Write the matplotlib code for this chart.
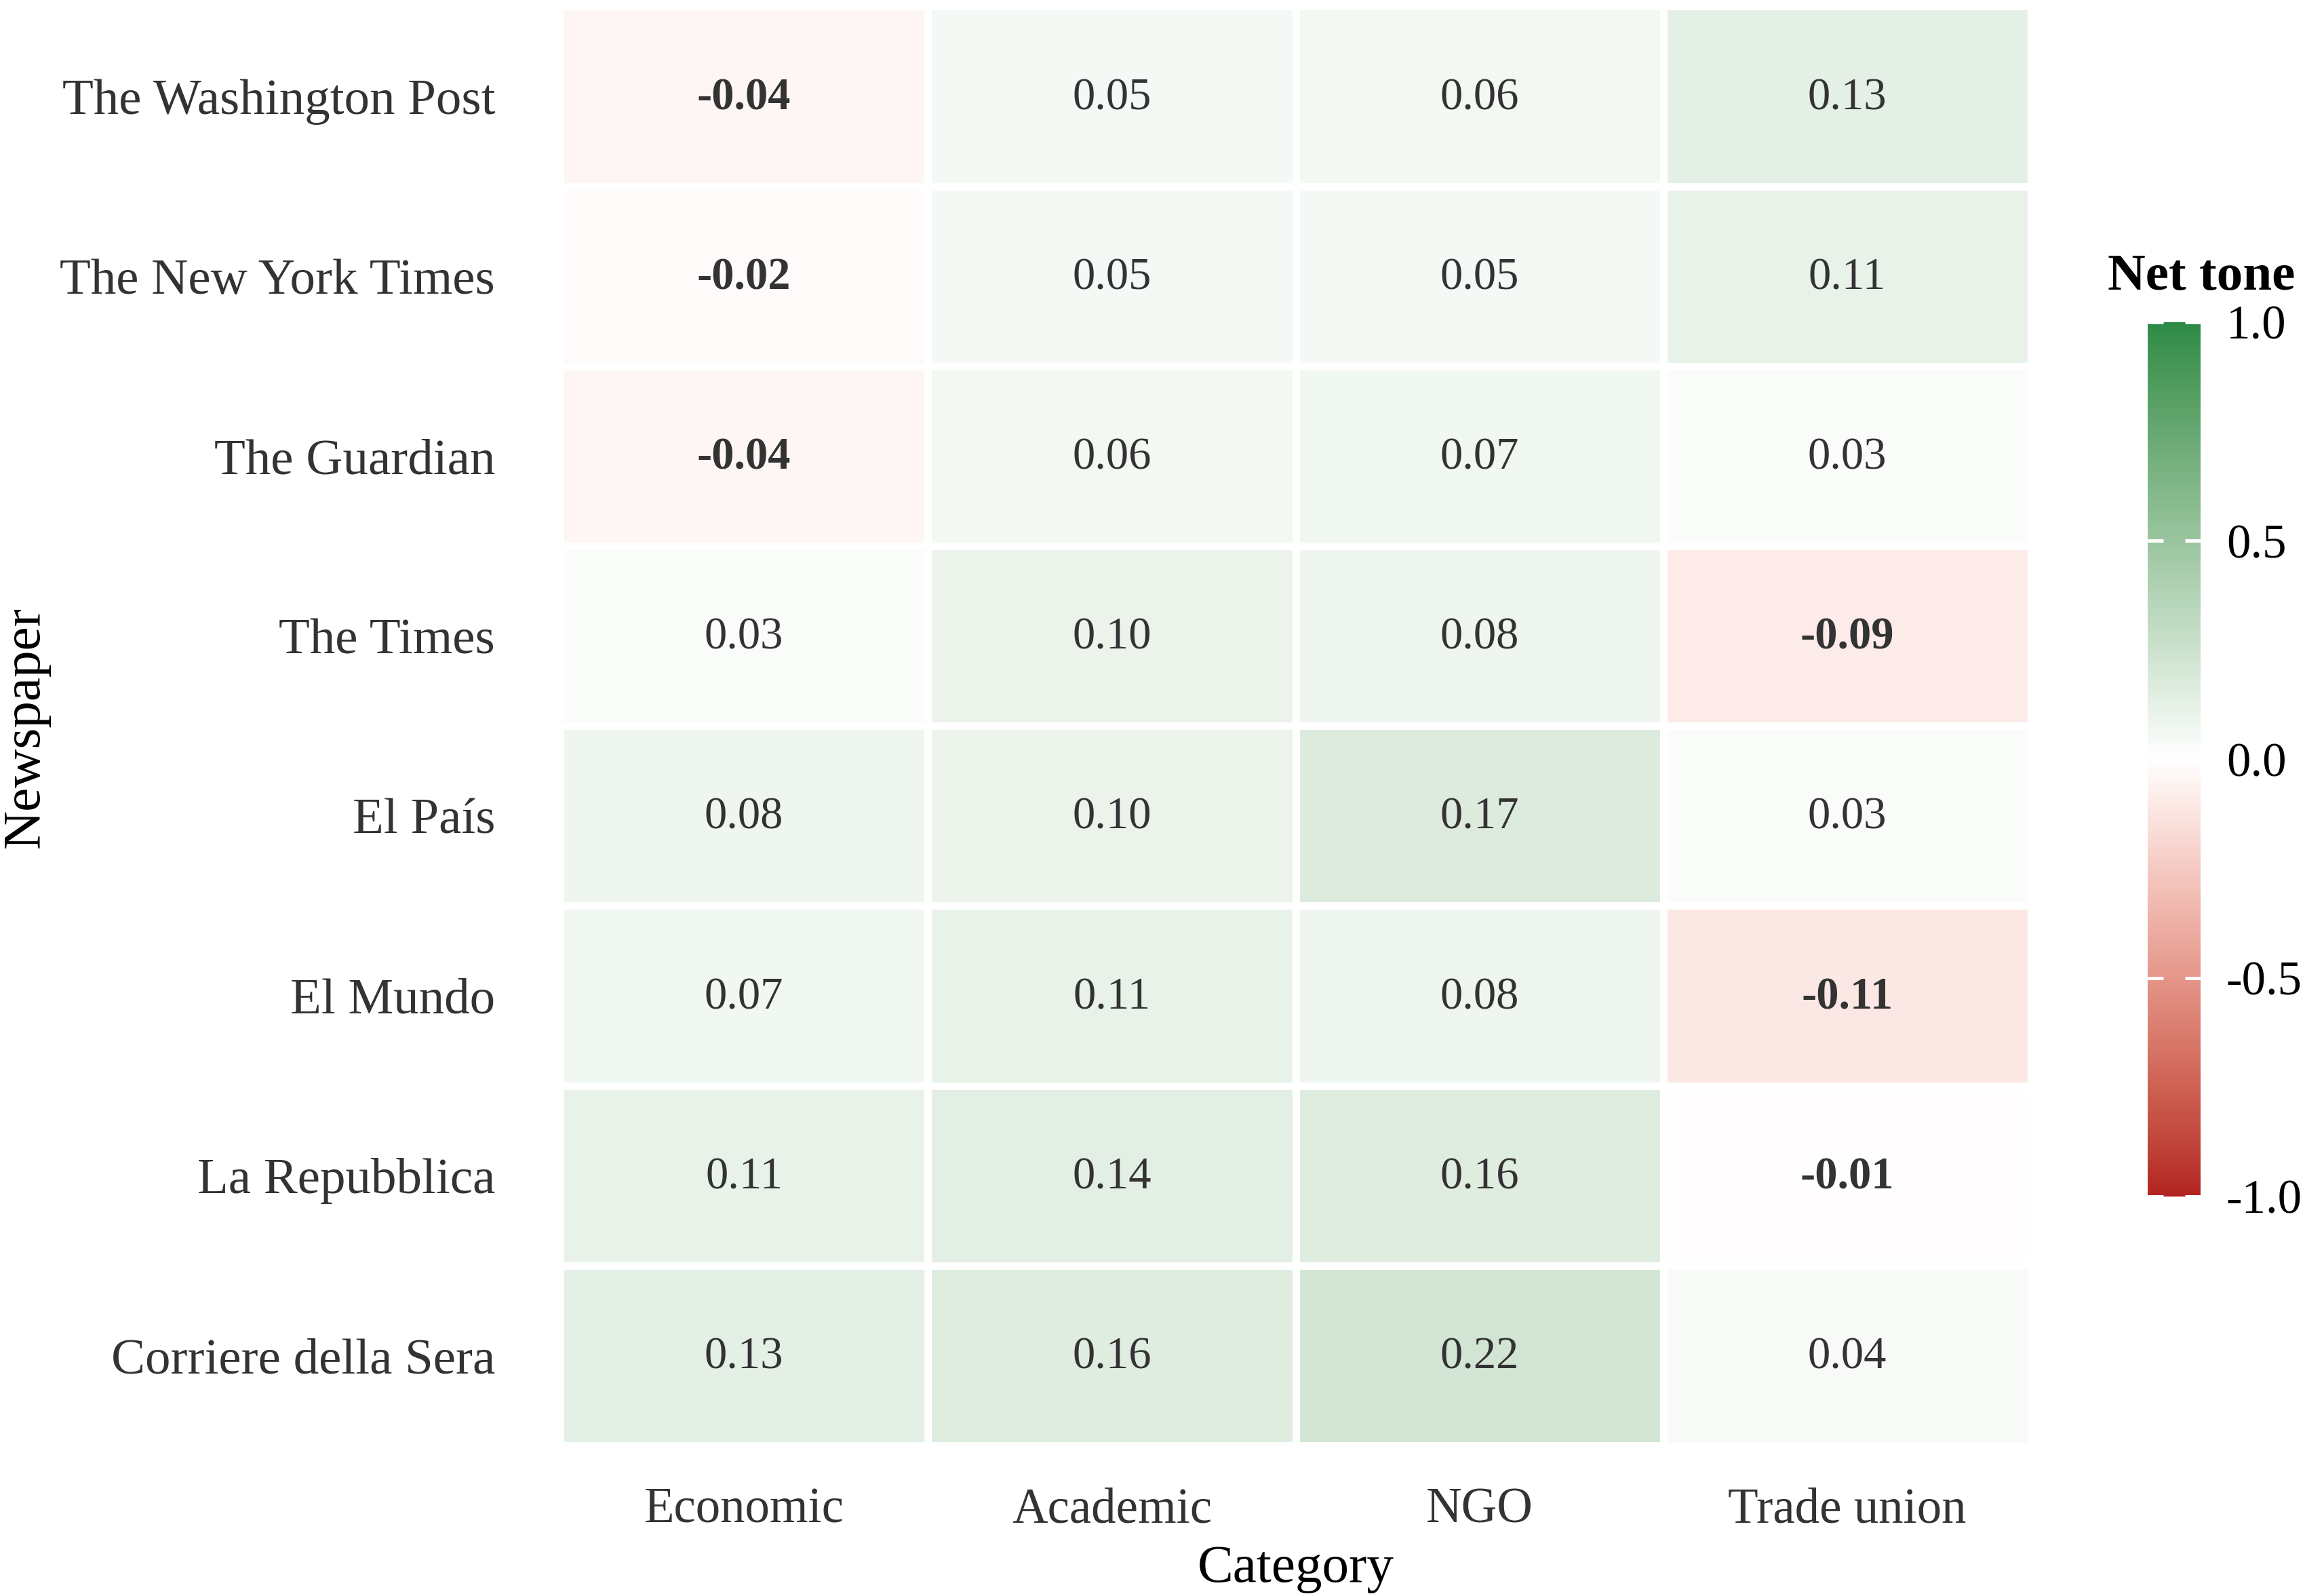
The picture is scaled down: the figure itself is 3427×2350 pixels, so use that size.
import numpy as np
import matplotlib
matplotlib.use("Agg")
import matplotlib.pyplot as plt
from matplotlib.colors import ListedColormap, Normalize, to_rgb

newspapers = ["The Washington Post", "The New York Times", "The Guardian", "The Times",
              "El País", "El Mundo", "La Repubblica", "Corriere della Sera"]
categories = ["Economic", "Academic", "NGO", "Trade union"]
economic = [-0.04, -0.02, -0.04, 0.03, 0.08, 0.07, 0.11, 0.13]
academic = [0.05, 0.05, 0.06, 0.10, 0.10, 0.11, 0.14, 0.16]
ngo = [0.06, 0.05, 0.07, 0.08, 0.17, 0.08, 0.16, 0.22]
trade_union = [0.13, 0.11, 0.03, -0.09, 0.03, -0.11, -0.01, 0.04]
cbar_ticks = [-1.0, -0.5, 0.0, 0.5, 1.0]

values = np.array([economic, academic, ngo, trade_union]).T  # rows = newspapers

# --- Lab-space diverging colormap (like ggplot scale_fill_gradient2) ---
M = np.array([[0.4124, 0.3576, 0.1805], [0.2126, 0.7152, 0.0722], [0.0193, 0.1192, 0.9505]])
WP = np.array([0.95047, 1.0, 1.08883])

def srgb_to_lab(rgb):
    rgb = np.asarray(rgb, float)
    lin = np.where(rgb <= 0.04045, rgb / 12.92, ((rgb + 0.055) / 1.055) ** 2.4)
    t = (M @ lin) / WP
    f = np.where(t > (6/29)**3, np.cbrt(t), t / (3*(6/29)**2) + 4/29)
    return np.array([116*f[1]-16, 500*(f[0]-f[1]), 200*(f[1]-f[2])])

def lab_to_srgb(lab):
    L, a, b = lab
    fy = (L + 16) / 116
    fx = fy + a / 500
    fz = fy - b / 200
    def finv(f):
        return np.where(f > 6/29, f**3, 3*(6/29)**2*(f - 4/29))
    xyz = np.array([finv(fx), finv(fy), finv(fz)]) * WP
    lin = np.clip(np.linalg.inv(M) @ xyz, 0, 1)
    rgb = np.where(lin <= 0.0031308, 12.92*lin, 1.055*lin**(1/2.4) - 0.055)
    return np.clip(rgb, 0, 1)

low = srgb_to_lab(to_rgb("#B22222"))
mid = srgb_to_lab(to_rgb("#FFFFFF"))
high = srgb_to_lab(to_rgb("#2C8B46"))
cols = []
N = 512
for i in range(N):
    t = i / (N - 1)
    if t < 0.5:
        lab = low + (mid - low) * (t / 0.5)
    else:
        lab = mid + (high - mid) * ((t - 0.5) / 0.5)
    cols.append(lab_to_srgb(lab))
cmap = ListedColormap(cols)
norm = Normalize(vmin=-1, vmax=1)

plt.rcParams['font.family'] = ['Liberation Serif', 'DejaVu Serif']

fig = plt.figure(figsize=(3427/300, 2350/300), dpi=300)
ax = fig.add_axes([0.241, 0.0932, 0.633, 0.9028])

nr, nc = values.shape
mesh = ax.pcolormesh(np.arange(nc+1), np.arange(nr+1), values, cmap=cmap, norm=norm,
                     edgecolors="white", linewidth=2.2)
ax.set_xlim(0, nc)
ax.set_ylim(nr, 0)
for sp in ax.spines.values():
    sp.set_visible(False)

for i in range(nr):
    for j in range(nc):
        v = values[i, j]
        ax.text(j + 0.5, i + 0.51, f"{v:.2f}", ha="center", va="center",
                fontsize=16, color="#333333",
                fontweight="bold" if v < 0 else "normal")

ax.set_xticks(np.arange(nc) + 0.5)
ax.set_xticklabels(categories, fontsize=17.5, color="#333333")
ax.set_yticks(np.arange(nr) + 0.5)
ax.set_yticklabels(newspapers, fontsize=18, color="#333333")
ax.tick_params(axis="both", length=0)
ax.tick_params(axis="x", pad=15)
ax.tick_params(axis="y", pad=23)
ax.set_xlabel("Category", fontsize=19, labelpad=4)
fig.text(0.011, 0.544, "Newspaper", rotation=90, ha="center", va="center", fontsize=19)

cax = fig.add_axes([0.924, 0.2494, 0.023, 0.5486])
cb = fig.colorbar(mesh, cax=cax, ticks=cbar_ticks)
cb.outline.set_visible(False)
cb.ax.tick_params(direction="in", color="white", left=True, right=True, length=5.5,
                  width=1.2, labelsize=17, pad=9)
cb.ax.set_yticklabels([f"{t:.1f}" for t in cbar_ticks])
fig.text(0.907, 0.826, "Net tone", fontsize=18.5, fontweight="bold", ha="left", va="center")

fig.savefig("out.png", dpi=300, facecolor="white")
